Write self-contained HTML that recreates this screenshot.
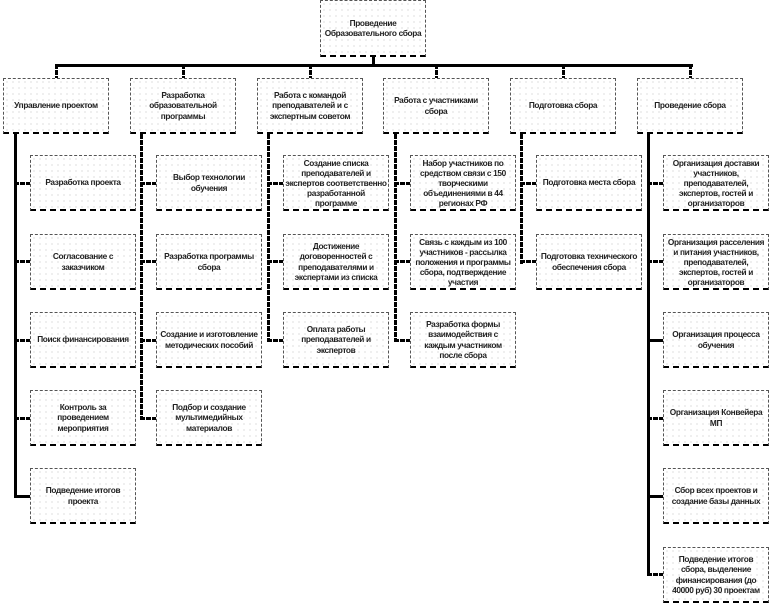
<!DOCTYPE html>
<html><head><meta charset="utf-8"><style>
body{margin:0;width:773px;height:605px;background:#fff;position:relative;overflow:hidden;font-family:"Liberation Sans","DejaVu Sans",sans-serif;}
.b{position:absolute;width:104px;height:53px;border:1px dashed #555;border-bottom:2px dashed #000;background-color:#fff;background-image:radial-gradient(circle,#c4c4c4 0.5px,transparent 0.8px);background-size:6px 6px;display:flex;align-items:center;justify-content:center;text-align:center;font-size:8.3px;font-weight:bold;letter-spacing:-0.35px;line-height:10.5px;color:#222;box-sizing:content-box;white-space:nowrap;}
.t{line-height:10px;}
.h{position:absolute;height:3px;background:#000;}
.v{position:absolute;width:3px;background:#000;}
.d{background:repeating-linear-gradient(180deg,#000 0 5px,#fff 5px 6px);}
.dh{background:repeating-linear-gradient(90deg,#000 0 5px,#fff 5px 6px);}
</style></head><body>
<div class="b" style="left:320px;top:0;height:54px">Проведение<br>Образовательного сбора</div>
<div class="v" style="left:372px;top:55px;height:11px"></div>
<div class="h" style="left:55px;top:64px;width:638px"></div>
<div class="v d" style="left:55px;top:64px;height:14px"></div>
<div class="v d" style="left:182px;top:64px;height:14px"></div>
<div class="v d" style="left:309px;top:64px;height:14px"></div>
<div class="v d" style="left:435px;top:64px;height:14px"></div>
<div class="v d" style="left:562px;top:64px;height:14px"></div>
<div class="v d" style="left:689px;top:64px;height:14px"></div>

<div class="b" style="left:3px;top:78px">Управление проектом</div>
<div class="b" style="left:130px;top:78px">Разработка<br>образовательной<br>программы</div>
<div class="b" style="left:257px;top:78px">Работа с командой<br>преподавателей и с<br>экспертным советом</div>
<div class="b" style="left:383px;top:78px">Работа с участниками<br>сбора</div>
<div class="b" style="left:510px;top:78px">Подготовка сбора</div>
<div class="b" style="left:637px;top:78px">Проведение сбора</div>

<div class="v" style="left:14px;top:134px;height:364px"></div>
<div class="v d" style="left:140px;top:134px;height:286px"></div>
<div class="v d" style="left:267px;top:134px;height:208px"></div>
<div class="v d" style="left:394px;top:134px;height:208px"></div>
<div class="v d" style="left:520px;top:134px;height:130px"></div>
<div class="v" style="left:647px;top:134px;height:441px"></div>

<div class="h dh" style="left:14px;top:182px;width:16px"></div>
<div class="h dh" style="left:14px;top:260px;width:16px"></div>
<div class="h dh" style="left:14px;top:339px;width:16px"></div>
<div class="h dh" style="left:14px;top:417px;width:16px"></div>
<div class="h" style="left:14px;top:495px;width:16px"></div>
<div class="b" style="left:30px;top:155px">Разработка проекта</div>
<div class="b" style="left:30px;top:234px">Согласование с<br>заказчиком</div>
<div class="b" style="left:30px;top:312px">Поиск финансирования</div>
<div class="b" style="left:30px;top:390px">Контроль за<br>проведением<br>мероприятия</div>
<div class="b" style="left:30px;top:468px">Подведение итогов<br>проекта</div>

<div class="h dh" style="left:140px;top:182px;width:16px"></div>
<div class="h dh" style="left:140px;top:260px;width:16px"></div>
<div class="h dh" style="left:140px;top:339px;width:16px"></div>
<div class="h dh" style="left:140px;top:417px;width:16px"></div>
<div class="b" style="left:156px;top:155px">Выбор технологии<br>обучения</div>
<div class="b" style="left:156px;top:234px">Разработка программы<br>сбора</div>
<div class="b" style="left:156px;top:312px">Создание и изготовление<br>методических пособий</div>
<div class="b" style="left:156px;top:390px">Подбор и создание<br>мультимедийных<br>материалов</div>

<div class="h dh" style="left:267px;top:182px;width:16px"></div>
<div class="h dh" style="left:267px;top:260px;width:16px"></div>
<div class="h dh" style="left:267px;top:339px;width:16px"></div>
<div class="b t" style="left:283px;top:155px">Создание списка<br>преподавателей и<br>экспертов соответственно<br>разработанной<br>программе</div>
<div class="b" style="left:283px;top:234px">Достижение<br>договоренностей с<br>преподавателями и<br>экспертами из списка</div>
<div class="b" style="left:283px;top:312px">Оплата работы<br>преподавателей и<br>экспертов</div>

<div class="h dh" style="left:394px;top:182px;width:16px"></div>
<div class="h dh" style="left:394px;top:260px;width:16px"></div>
<div class="h dh" style="left:394px;top:339px;width:16px"></div>
<div class="b t" style="left:410px;top:155px">Набор участников по<br>средством связи с 150<br>творческими<br>объединениями в 44<br>регионах РФ</div>
<div class="b t" style="left:410px;top:234px">Связь с каждым из 100<br>участников - рассылка<br>положения и программы<br>сбора, подтверждение<br>участия</div>
<div class="b" style="left:410px;top:312px">Разработка формы<br>взаимодействия с<br>каждым участником<br>после сбора</div>

<div class="h dh" style="left:520px;top:182px;width:16px"></div>
<div class="h dh" style="left:520px;top:260px;width:16px"></div>
<div class="b" style="left:536px;top:155px">Подготовка места сбора</div>
<div class="b" style="left:536px;top:234px">Подготовка технического<br>обеспечения сбора</div>

<div class="h dh" style="left:647px;top:182px;width:16px"></div>
<div class="h dh" style="left:647px;top:260px;width:16px"></div>
<div class="h" style="left:647px;top:339px;width:16px"></div>
<div class="h dh" style="left:647px;top:417px;width:16px"></div>
<div class="h" style="left:647px;top:495px;width:16px"></div>
<div class="h dh" style="left:647px;top:573px;width:16px"></div>
<div class="b t" style="left:663px;top:155px">Организация доставки<br>участников,<br>преподавателей,<br>экспертов, гостей и<br>организаторов</div>
<div class="b t" style="left:663px;top:234px">Организация расселения<br>и питания участников,<br>преподавателей,<br>экспертов, гостей и<br>организаторов</div>
<div class="b" style="left:663px;top:312px">Организация процесса<br>обучения</div>
<div class="b" style="left:663px;top:390px">Организация Конвейера<br>МП</div>
<div class="b" style="left:663px;top:468px">Сбор всех проектов и<br>создание базы данных</div>
<div class="b" style="left:663px;top:547px">Подведение итогов<br>сбора, выделение<br>финансирования (до<br>40000 руб) 30 проектам</div>
</body></html>
